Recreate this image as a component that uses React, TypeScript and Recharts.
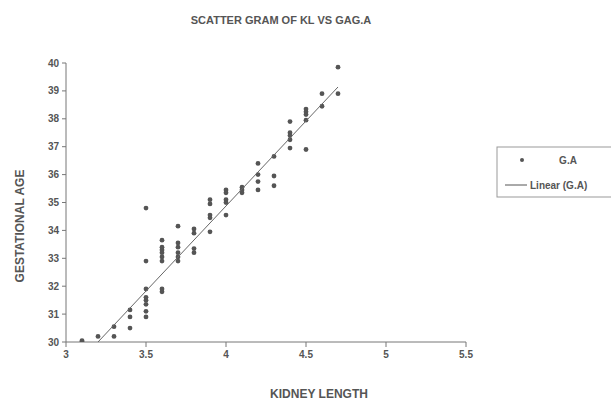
import { ScatterChart, Scatter, XAxis, YAxis, Customized } from 'recharts'

// kidney length (cm) for each measured case
const KL = [
  3.1, 3.1,
  3.2,
  3.3, 3.3,
  3.4, 3.4, 3.4,
  3.5, 3.5, 3.5, 3.5, 3.5, 3.5, 3.5, 3.5,
  3.6, 3.6, 3.6, 3.6, 3.6, 3.6, 3.6, 3.6,
  3.7, 3.7, 3.7, 3.7, 3.7, 3.7,
  3.8, 3.8, 3.8, 3.8,
  3.9, 3.9, 3.9, 3.9, 3.9,
  4.0, 4.0, 4.0, 4.0, 4.0,
  4.1, 4.1, 4.1,
  4.2, 4.2, 4.2, 4.2,
  4.3, 4.3, 4.3,
  4.4, 4.4, 4.4, 4.4, 4.4,
  4.5, 4.5, 4.5, 4.5, 4.5,
  4.6, 4.6,
  4.7, 4.7,
]

// gestational age (weeks), same order as KL
const GA = [
  30.0, 30.05,
  30.2,
  30.55, 30.2,
  31.15, 30.9, 30.5,
  34.8, 32.9, 31.9, 31.6, 31.5, 31.35, 31.1, 30.9,
  33.65, 33.4, 33.3, 33.2, 33.05, 32.9, 31.9, 31.8,
  34.15, 33.55, 33.4, 33.2, 33.05, 32.9,
  34.05, 33.9, 33.35, 33.2,
  35.1, 34.95, 34.55, 34.45, 33.95,
  35.45, 35.35, 35.1, 35.0, 34.55,
  35.55, 35.45, 35.35,
  36.4, 36.0, 35.75, 35.45,
  36.65, 35.95, 35.6,
  37.9, 37.5, 37.4, 37.25, 36.95,
  38.35, 38.25, 38.15, 37.95, 36.9,
  38.9, 38.45,
  39.85, 38.9,
]

// linear trend end points as drawn (x from 3.1 to 4.7)
const TREND_X = [3.1, 4.7]
const TREND_Y = [29.39, 39.14]

const X_TICKS = [3, 3.5, 4, 4.5, 5, 5.5]
const Y_TICKS = [30, 31, 32, 33, 34, 35, 36, 37, 38, 39, 40]

const points = KL.map((x, i) => ({ x, y: GA[i] }))
const trend = TREND_X.map((x, i) => ({ x, y: TREND_Y[i] }))

const INK = '#555'
const FONT = '"Liberation Sans", Arial, sans-serif'

const Labels = () => (
  <g fontFamily={FONT} fontWeight="bold" fill={INK}>
    <text x={281} y={24} fontSize={11} textAnchor="middle">SCATTER GRAM OF KL VS GAG.A</text>
    <text x={319} y={398} fontSize={12} textAnchor="middle">KIDNEY LENGTH</text>
    <text x={0} y={0} fontSize={12} textAnchor="middle" transform="translate(24,226) rotate(-90)">
      GESTATIONAL AGE
    </text>
    <rect x={497} y={147} width={125} height={50} fill="none" stroke="#999" strokeWidth={1} />
    <circle cx={522} cy={160} r={2} fill={INK} />
    <text x={568} y={164} fontSize={10} textAnchor="middle">G.A</text>
    <line x1={505} y1={185} x2={527} y2={185} stroke={INK} strokeWidth={1} />
    <text x={530} y={189} fontSize={10}>Linear (G.A)</text>
  </g>
)

export default function App() {
  return (
    <div style={{ position: 'absolute', left: 0, top: 0, background: '#fff' }}>
      <ScatterChart width={611} height={401} margin={{ top: 63, right: 145, bottom: 29, left: 0 }}>
        <XAxis
          type="number"
          dataKey="x"
          domain={[3, 5.5]}
          ticks={X_TICKS}
          height={30}
          tickSize={5}
          tickMargin={4}
          stroke="#777"
          tick={{ fontSize: 10, fontWeight: 'bold', fill: INK, fontFamily: FONT }}
        />
        <YAxis
          type="number"
          dataKey="y"
          domain={[30, 40]}
          ticks={Y_TICKS}
          allowDataOverflow
          width={66}
          tickSize={4}
          tickMargin={3}
          stroke="#777"
          tick={{ fontSize: 10, fontWeight: 'bold', fill: INK, fontFamily: FONT }}
        />
        <Scatter data={points} fill={INK} isAnimationActive={false}
          shape={(p: any) => <circle cx={p.cx} cy={p.cy} r={2.4} fill={INK} />} />
        <Scatter data={trend} isAnimationActive={false}
          line={{ stroke: '#666', strokeWidth: 1 }} shape={() => <g />} />
        <Customized component={Labels} />
      </ScatterChart>
    </div>
  )
}
